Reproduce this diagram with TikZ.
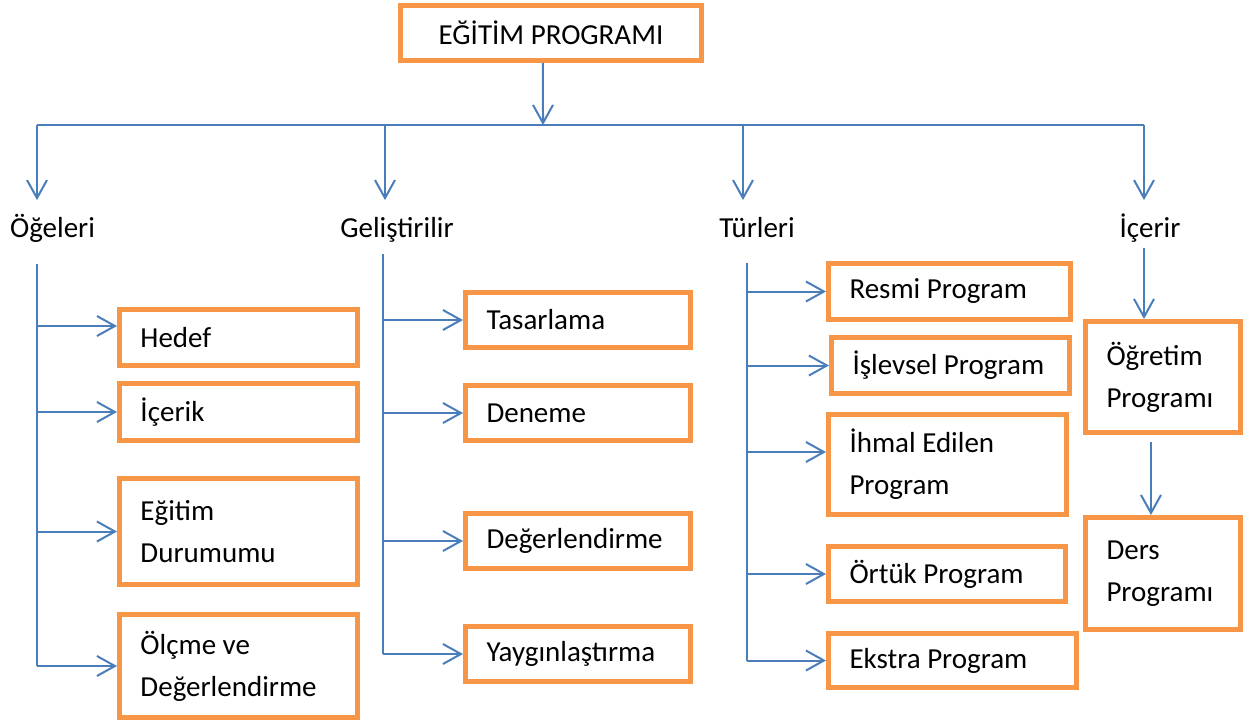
\documentclass[tikz,border=0pt]{standalone}
\usepackage{fontspec}
\setmainfont{Carlito}
\usepackage{xcolor}
\definecolor{BoxCol}{RGB}{247,150,70}
\definecolor{LineCol}{RGB}{74,126,187}
\usepackage{tikz}
\usetikzlibrary{arrows.meta}
\tikzstyle{Txt}=[font=\fontsize{16.5}{24}\selectfont]
\tikzstyle{Box}=[Txt,draw=BoxCol,line width=0.1cm,rectangle,anchor=north west,
align=flush left,inner xsep=0.42cm,inner ysep=0pt]
\tikzstyle{TopBox}=[Txt,draw=BoxCol,line width=0.1cm,rectangle,anchor=north west,
align=center,inner sep=0pt,minimum width=6.02cm,minimum height=1.1cm]
\tikzstyle{Label}=[Txt,anchor=base,text height=0.8em,text depth=0.25em,
inner xsep=0pt,inner ysep=0.45cm]
\tikzstyle{Edge}=[draw=LineCol,line width=0.04cm]
\tikzstyle{Arrow}=[Edge,-{Straight Barb[length=0.36cm,width=0.4cm]}]

\begin{document}
\begin{tikzpicture}[x=0.02cm,y=-0.02cm]
            \useasboundingbox(0,0)rectangle(1248,725);
            \node[TopBox](top)at(398,3){EĞİTİM PROGRAMI};
            \node[Label](oge)at(52.5,237){Öğeleri};
            \node[Label](gel)at(397,237){Geliştirilir};
            \node[Label](tur)at(757,237){Türleri};
            \node[Label](ice)at(1150,237){İçerir};
            \node[Box,text width=3.92cm,minimum height=1.12cm](hedef)at(117,307){Hedef};
            \node[Box,text width=3.92cm,minimum height=1.14cm](icerik)at(117,381){İçerik};
            \node[Box,text width=3.92cm,minimum height=2.12cm](egitim)at(117,476)
                {Eğitim\\Durumumu};
            \node[Box,text width=3.92cm,minimum height=2.06cm](olcme)at(117,612)
                {Ölçme ve\\Değerlendirme};
            \node[Box,text width=3.66cm,minimum height=1.1cm](tasar)at(463,290){Tasarlama};
            \node[Box,text width=3.66cm,minimum height=1.1cm](deneme)at(463,383){Deneme};
            \node[Box,text width=3.66cm,minimum height=1.1cm](deger)at(463,511){Değerlendirme};
            \node[Box,text width=3.66cm,minimum height=1.1cm](yaygin)at(463,624){Yaygınlaştırma};
            \node[Box,text width=4.0cm,minimum height=1.12cm](resmi)at(826,261){Resmi~Program};
            \node[Box,text width=3.92cm,minimum height=1.12cm](islev)at(829,335){İşlevsel~Program};
            \node[Box,text width=3.92cm,minimum height=2.0cm](ihmal)at(826,412)
                {İhmal Edilen\\Program};
            \node[Box,text width=3.9cm,minimum height=1.1cm](ortuk)at(826,544){Örtük~Program};
            \node[Box,text width=4.12cm,minimum height=1.08cm](ekstra)at(826,631){Ekstra~Program};
            \node[Box,text width=2.26cm,minimum height=2.22cm](ogretim)at(1083,319)
                {Öğretim\\Programı};
            \node[Box,text width=2.26cm,minimum height=2.24cm](ders)at(1083,515)
                {Ders\\Programı};
            \coordinate(bus)at(543,125);
            \coordinate(b1)at(37,125);
            \coordinate(b2)at(385,125);
            \coordinate(b3)at(743,125);
            \coordinate(b4)at(1144,125);
            \coordinate(s1)at(37,264);
            \coordinate(s2)at(383,254);
            \coordinate(s3)at(747,263);
            \coordinate(s4)at(1144,248);
            \coordinate(h1)at([yshift=0.23cm]hedef.west);
            \coordinate(h2)at([yshift=0.25cm]ihmal.west);
            \draw[Arrow]([xshift=-0.16cm]top.south)--(bus);
            \draw[Edge](b1)--(b4);
            \draw[Arrow](b1)--(b1|-oge.north);
            \draw[Arrow](b2)--(b2|-gel.north);
            \draw[Arrow](b3)--(b3|-tur.north);
            \draw[Arrow](b4)--(b4|-ice.north);
            \draw[Edge](s1)--(s1|-olcme.west);
            \draw[Arrow](s1|-h1)--(h1);
            \draw[Arrow](s1|-icerik.west)--(icerik.west);
            \draw[Arrow](s1|-egitim.west)--(egitim.west);
            \draw[Arrow](s1|-olcme.west)--(olcme.west);
            \draw[Edge](s2)--(s2|-yaygin.west);
            \draw[Arrow](s2|-tasar.west)--(tasar.west);
            \draw[Arrow](s2|-deneme.west)--(deneme.west);
            \draw[Arrow](s2|-deger.west)--(deger.west);
            \draw[Arrow](s2|-yaygin.west)--(yaygin.west);
            \draw[Edge](s3)--(s3|-ekstra.west);
            \draw[Arrow](s3|-resmi.west)--(resmi.west);
            \draw[Arrow](s3|-islev.west)--(islev.west);
            \draw[Arrow](s3|-h2)--(h2);
            \draw[Arrow](s3|-ortuk.west)--(ortuk.west);
            \draw[Arrow](s3|-ekstra.west)--(ekstra.west);
            \draw[Arrow](s4)--(s4|-ogretim.north);
            \draw[Arrow]([xshift=-0.24cm,yshift=-0.14cm]ogretim.south)--([xshift=-0.24cm]ders.north);
        \end{tikzpicture}
\end{document}
